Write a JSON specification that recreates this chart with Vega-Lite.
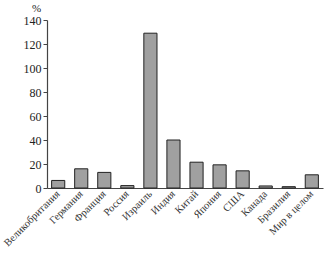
{
  "$schema": "https://vega.github.io/schema/vega-lite/v6.json",
  "width": 276,
  "height": 168,
  "autosize": "none",
  "padding": {"left": 47, "top": 20, "right": 1, "bottom": 69},
  "background": "white",
  "config": {"view": {"stroke": null}, "font": "Liberation Serif"},
  "data": {"values": [
    {"country": "Великобритания", "value": 6.3},
    {"country": "Германия", "value": 16},
    {"country": "Франция", "value": 13},
    {"country": "Россия", "value": 2},
    {"country": "Израиль", "value": 129},
    {"country": "Индия", "value": 40},
    {"country": "Китай", "value": 21.5},
    {"country": "Япония", "value": 19.3},
    {"country": "США", "value": 14.3},
    {"country": "Канада", "value": 1.7},
    {"country": "Бразилия", "value": 1.1},
    {"country": "Мир в целом", "value": 11}
  ]},
  "mark": {"type": "bar", "fill": "#a0a0a0", "stroke": "#222", "strokeWidth": 1},
  "encoding": {
    "x": {
      "field": "country", "type": "nominal", "sort": null,
      "scale": {"paddingInner": 0.43, "paddingOuter": 0.2},
      "axis": {"title": null, "labelAngle": -45, "labelAlign": "right", "labelBaseline": "middle",
        "labelFont": "Liberation Serif", "labelFontSize": 10.5, "labelColor": "#333",
        "ticks": false, "labelPadding": 4, "domainColor": "#444", "domainWidth": 1.2}
    },
    "y": {
      "field": "value", "type": "quantitative",
      "scale": {"domain": [0, 140], "nice": false},
      "axis": {"values": [0, 20, 40, 60, 80, 100, 120, 140], "grid": false,
        "title": "%", "titleAngle": 0, "titleX": -11, "titleY": -12, "titleBaseline": "middle", "titleAlign": "center",
        "titleFont": "Liberation Serif",
        "titleFontWeight": "normal", "titleFontSize": 11, "titleColor": "#222",
        "labelFont": "Liberation Serif", "labelFontSize": 12, "labelColor": "#222",
        "tickSize": 4, "tickColor": "#444", "domainColor": "#444", "domainWidth": 1.2, "labelPadding": 2}
    }
  }
}
